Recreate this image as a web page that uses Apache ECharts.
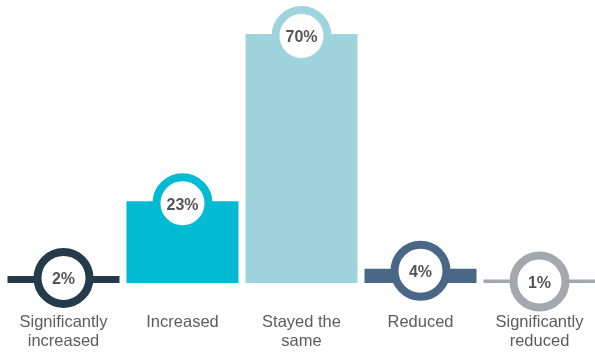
<!DOCTYPE html>
<html>
<head>
<meta charset="utf-8">
<script src="https://cdn.jsdelivr.net/npm/echarts@6/dist/echarts.min.js"></script>
<style>
  html, body { margin: 0; padding: 0; background: #ffffff; }
  #chart { width: 595px; height: 354px; }
</style>
</head>
<body>
<div id="chart"></div>
<script>
// Survey answers and their shares (%)
const categories = ['Significantly\nincreased', 'Increased', 'Stayed the\nsame', 'Reduced', 'Significantly\nreduced'];
const shares = [2, 23, 70, 4, 1];
const colors = ['#253a4b', '#00bbd3', '#9fd4de', '#4a6886', '#a5a6ae'];

const textFont = '"Liberation Sans", Arial, sans-serif';

const chart = echarts.init(document.getElementById('chart'), null, { renderer: 'canvas' });

const barData = shares.map((v, i) => ({ value: v, itemStyle: { color: colors[i] } }));
const ringData = shares.map((v, i) => ({
  value: [i, v],
  itemStyle: { color: '#ffffff', borderColor: colors[i], borderWidth: 8, opacity: 1 }
}));

chart.setOption({
  animation: false,
  grid: {
    left: 4, width: 595, top: 34, bottom: 71,
    containLabel: false, outerBoundsMode: 'none'
  },
  xAxis: {
    type: 'category',
    data: categories,
    axisLine: { show: false },
    axisTick: { show: false },
    axisLabel: {
      interval: 0,
      margin: 30,
      color: '#5c5c5c',
      fontFamily: textFont,
      fontSize: 16.5,
      lineHeight: 19
    }
  },
  yAxis: {
    type: 'value',
    min: 0,
    max: 70,
    show: false,
    splitLine: { show: false }
  },
  series: [
    {
      type: 'bar',
      data: barData,
      barWidth: 112,
      z: 2
    },
    {
      type: 'scatter',
      data: ringData,
      symbol: 'circle',
      symbolSize: 52,
      symbolOffset: [0, 2],
      z: 3,
      emphasis: { disabled: true },
      label: {
        show: true,
        position: 'inside',
        offset: [0, 2],
        formatter: p => p.value[1] + '%',
        color: '#555555',
        fontFamily: textFont,
        fontWeight: 'bold',
        fontSize: 16
      }
    }
  ]
});
</script>
</body>
</html>
